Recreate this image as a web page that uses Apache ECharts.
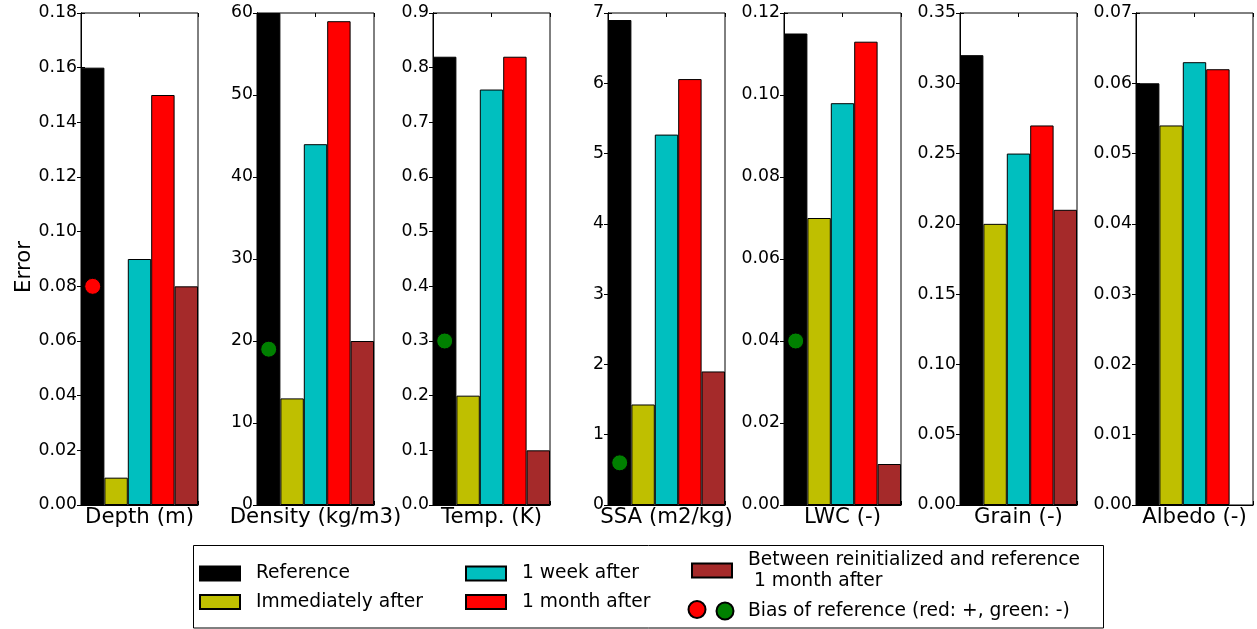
<!DOCTYPE html>
<html>
<head>
<meta charset="utf-8">
<script src="https://cdn.jsdelivr.net/npm/echarts@6/dist/echarts.min.js"></script>
<style>
  html, body { margin: 0; padding: 0; background: #fff; }
  #chart { width: 1257px; height: 629px; }
</style>
</head>
<body>
<div id="chart"></div>
<script>
// Variables shown in each panel
const panelLabels = ['Depth (m)', 'Density (kg/m3)', 'Temp. (K)', 'SSA (m2/kg)', 'LWC (-)', 'Grain (-)', 'Albedo (-)'];

// Error of each run, one value per panel
const seriesNames = ['Reference', 'Immediately after', '1 week after', '1 month after',
  'Between reinitialized and reference\n 1 month after'];
const reference        = [0.16, 60, 0.82, 6.9,  0.115, 0.32, 0.060];
const immediatelyAfter = [0.01, 13, 0.20, 1.43, 0.070, 0.20, 0.054];
const oneWeekAfter     = [0.09, 44, 0.76, 5.27, 0.098, 0.25, 0.063];
const oneMonthAfter    = [0.15, 59, 0.82, 6.06, 0.113, 0.27, 0.062];
const betweenRuns      = [0.08, 20, 0.10, 1.90, 0.010, 0.21, null];

// Bias of the reference run (positive in red, negative in green)
const biasPosName = 'Bias (+)';
const biasNegName = 'Bias of reference (red: +, green: -)';
const biasPositive = [0.08, null, null, null, null, null, null];
const biasNegative = [null, 19, 0.30, 0.60, 0.040, null, null];

// Y axis scale of each panel
const axisMax = [0.18, 60, 0.9, 7, 0.12, 0.35, 0.07];
const axisStep = [0.02, 10, 0.1, 1, 0.02, 0.05, 0.01];
const tickDecimals = [2, 0, 1, 0, 2, 2, 2];

const runValues = [reference, immediatelyAfter, oneWeekAfter, oneMonthAfter, betweenRuns];
const runColors = ['#000000', '#bfbf00', '#00bfbf', '#ff0000', '#a52a2a'];

const FONT = 'DejaVu Sans';
const panelLeft0 = 80.7, panelStep = 175.9, panelWidth = 117, panelTop = 13, panelHeight = 492;

const grids = [], xAxes = [], yAxes = [], series = [];

panelLabels.forEach((label, i) => {
  grids.push({
    left: Math.round(panelLeft0 + panelStep * i), top: panelTop, width: panelWidth, height: panelHeight,
    show: true, borderColor: '#000', borderWidth: 1, backgroundColor: 'transparent',
    outerBoundsMode: 'none', containLabel: false
  });

  // category axis that holds the bars
  xAxes.push({
    type: 'category', gridIndex: i, data: [0, 1, 2, 3, 4],
    axisLine: { show: true, lineStyle: { color: '#000', width: 1 } },
    axisTick: { show: false }, axisLabel: { show: false }, splitLine: { show: false },
    name: label, nameLocation: 'middle', nameGap: 2,
    nameTextStyle: { fontFamily: FONT, fontSize: 21.3, color: '#000', verticalAlign: 'top' }
  });
  // centre tick marks, bottom and top
  ['bottom', 'top'].forEach(pos => {
    xAxes.push({
      type: 'value', gridIndex: i, position: pos, min: 0, max: 2, interval: 1,
      axisLine: { show: false }, axisLabel: { show: false }, splitLine: { show: false },
      axisTick: { show: true, inside: true, length: 4, lineStyle: { color: '#000', width: 1 } }
    });
  });

  const d = tickDecimals[i];
  const yBase = {
    type: 'value', gridIndex: i, min: 0, max: axisMax[i], interval: axisStep[i],
    splitLine: { show: false },
    axisLine: { show: true, lineStyle: { color: '#000', width: 1 } },
    axisTick: { show: true, inside: true, length: 4, lineStyle: { color: '#000', width: 1 } }
  };
  yAxes.push(Object.assign({}, yBase, {
    position: 'left',
    axisLabel: { show: true, fontFamily: FONT, fontSize: 17.3, color: '#000', margin: 4,
      formatter: v => Number(v).toFixed(d) },
    name: i === 0 ? 'Error' : '', nameLocation: 'middle', nameGap: 46,
    nameTextStyle: { fontFamily: FONT, fontSize: 21.3, color: '#000', padding: [0, 16, 0, 0] }
  }));
  yAxes.push(Object.assign({}, yBase, { position: 'right', axisLabel: { show: false } }));

  runValues.forEach((vals, k) => {
    const data = [0, 1, 2, 3, 4].map(j => (j === k && vals[i] != null) ? vals[i] : '-');
    series.push({
      type: 'bar', name: seriesNames[k], xAxisIndex: 3 * i, yAxisIndex: 2 * i,
      stack: 'panel' + i, barCategoryGap: '0%', data,
      itemStyle: { color: runColors[k], borderColor: '#000', borderWidth: 1 },
      emphasis: { disabled: true }
    });
  });

  if (biasPositive[i] != null) {
    series.push({
      type: 'scatter', name: biasPosName, xAxisIndex: 3 * i, yAxisIndex: 2 * i,
      symbol: 'circle', symbolSize: 16, z: 5, data: [[0, biasPositive[i]]],
      itemStyle: { color: '#ff0000', opacity: 1, borderColor: '#000', borderWidth: 1 },
      emphasis: { disabled: true }
    });
  }
  if (biasNegative[i] != null) {
    series.push({
      type: 'scatter', name: biasNegName, xAxisIndex: 3 * i, yAxisIndex: 2 * i,
      symbol: 'circle', symbolSize: 16, z: 5, data: [[0, biasNegative[i]]],
      itemStyle: { color: '#008000', opacity: 1, borderColor: '#000', borderWidth: 1 },
      emphasis: { disabled: true }
    });
  }
});

// Legend: one component per entry, laid out in three columns
function legendEntry(name, left, centerY, opts) {
  const o = opts || {};
  const lh = o.lineHeight || 22;
  const lines = o.lines || 1;
  const h = Math.max(o.itemHeight || 14, lh * lines);
  return {
    data: [name], left, top: centerY - h / 2, padding: 0, selectedMode: false,
    icon: o.icon || 'rect', itemWidth: o.itemWidth || 40, itemHeight: o.itemHeight || 14,
    formatter: o.hideText ? () => '' : undefined,
    itemStyle: { opacity: 1 },
    textStyle: { fontFamily: FONT, fontSize: 18.67, color: '#000', lineHeight: lh,
      padding: [0, 0, 0, o.textPad != null ? o.textPad : 11] }
  };
}
const legends = [
  legendEntry(seriesNames[0], 199, 573.5),
  legendEntry(seriesNames[1], 199, 602),
  legendEntry(seriesNames[2], 465, 573.5),
  legendEntry(seriesNames[3], 465, 602),
  legendEntry(seriesNames[4], 691, 570.5, { lineHeight: 21, lines: 2 }),
  legendEntry(biasPosName, 687.5, 611, { icon: 'circle', itemWidth: 17, itemHeight: 17, hideText: true, textPad: 0 }),
  legendEntry(biasNegName, 715.5, 611, { icon: 'circle', itemWidth: 17, itemHeight: 17, textPad: 9.5 })
];

const chart = echarts.init(document.getElementById('chart'), null, { renderer: 'canvas' });
chart.setOption({
  animation: false,
  backgroundColor: '#fff',
  textStyle: { fontFamily: FONT },
  grid: grids,
  xAxis: xAxes,
  yAxis: yAxes,
  legend: legends,
  series,
  graphic: [{
    type: 'rect', shape: { x: 193.5, y: 545.5, width: 910, height: 82.5 },
    style: { fill: 'none', stroke: '#000', lineWidth: 1 }, silent: true, z: 0
  }]
});
</script>
</body>
</html>
